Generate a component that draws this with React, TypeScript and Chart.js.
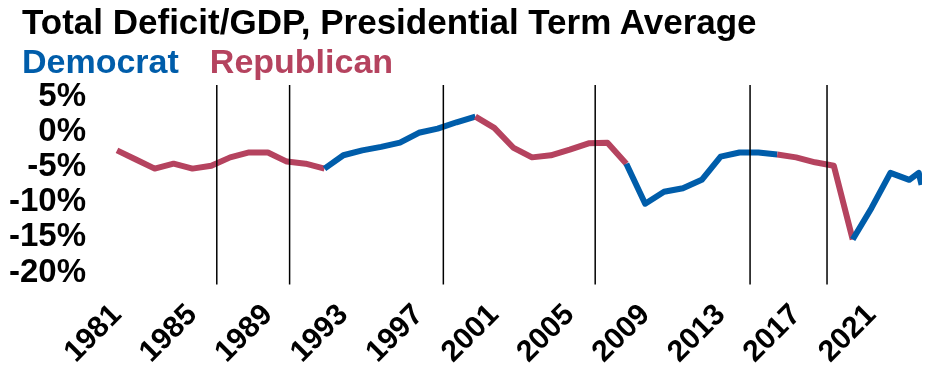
import React, { useEffect, useRef } from "react";
import { Chart, registerables } from "chart.js";

Chart.register(...registerables);

const years = [
  1981, 1982, 1983, 1984, 1985, 1986, 1987, 1988, 1989, 1990,
  1991, 1992, 1993, 1994, 1995, 1996, 1997, 1998, 1999, 2000,
  2001, 2002, 2003, 2004, 2005, 2006, 2007, 2008, 2009, 2010,
  2011, 2012, 2013, 2014, 2015, 2016, 2017, 2018, 2019, 2020,
  2021, 2022, 2023, 2023.5, 2023.65,
];

const deficitPct = [
  -2.6, -3.9, -5.2, -4.5, -5.2, -4.8, -3.6, -2.9, -2.9, -4.2,
  -4.5, -5.2, -3.3, -2.6, -2.1, -1.5, -0.1, 0.5, 1.4, 2.2,
  0.6, -2.2, -3.6, -3.3, -2.5, -1.6, -1.5, -4.5, -10.2, -8.5,
  -8.0, -6.8, -3.5, -2.9, -2.9, -3.2, -3.6, -4.3, -4.8, -15.3,
  -10.8, -5.8, -6.8, -5.8, -7.5,
];

const termStartYears = [1981, 1993, 2001, 2009, 2017, 2021];
const termParties = ["R", "D", "R", "D", "R", "D"];

const xTickYears = [1981, 1985, 1989, 1993, 1997, 2001, 2005, 2009, 2013, 2017, 2021];
const yTickValues = [5, 0, -5, -10, -15, -20];

const termMarkerYears = [1986.29, 1990.15, 1998.3, 2006.35, 2014.56, 2018.64];

const DEM_COLOR = "#005DAA";
const REP_COLOR = "#B5435F";
const FONT = "'Liberation Sans', Arial, sans-serif";

function partyOf(year: number): string {
  let p = termParties[0];
  for (let i = 0; i < termStartYears.length; i++) {
    if (year >= termStartYears[i]) p = termParties[i];
  }
  return p;
}

const markerPlugin = {
  id: "termMarkers",
  afterDatasetsDraw(chart: any) {
    const { ctx, chartArea, scales } = chart;
    const x = scales.x;
    ctx.save();
    ctx.strokeStyle = "#000";
    ctx.lineWidth = 1.5;
    for (const yr of termMarkerYears) {
      const px = x.getPixelForValue(yr);
      ctx.beginPath();
      ctx.moveTo(px, chartArea.top - 12);
      ctx.lineTo(px, chartArea.bottom + 12);
      ctx.stroke();
    }
    ctx.restore();
  },
};

export default function App() {
  const canvasRef = useRef<HTMLCanvasElement | null>(null);

  useEffect(() => {
    if (!canvasRef.current) return;
    const points = years.map((yr, i) => ({ x: yr, y: deficitPct[i] }));
    const chart = new Chart(canvasRef.current, {
      type: "line",
      data: {
        datasets: [
          {
            label: "Deficit/GDP",
            data: points,
            borderWidth: 6,
            pointRadius: 0,
            borderJoinStyle: "round",
            borderCapStyle: "butt",
            tension: 0,
            clip: false as any,
            borderColor: DEM_COLOR,
            segment: {
              borderColor: (ctx: any) =>
                partyOf(ctx.p1.parsed.x) === "D" ? DEM_COLOR : REP_COLOR,
            },
          },
        ],
      },
      options: {
        responsive: false,
        animation: false,
        layout: { padding: { top: 89, left: 0, right: 0, bottom: 0 } },
        plugins: {
          legend: { display: false },
          tooltip: { enabled: false },
          title: { display: false },
        },
        scales: {
          x: {
            type: "linear",
            min: years[0],
            max: years[years.length - 1],
            grid: { display: false, drawTicks: false },
            border: { display: false },
            afterBuildTicks: (axis: any) => {
              axis.ticks = xTickYears.map((v) => ({ value: v }));
            },
            afterFit: (axis: any) => {
              axis.height = 95.5;
            },
            ticks: {
              autoSkip: false,
              minRotation: 45,
              maxRotation: 45,
              padding: 25,
              color: "#000",
              font: { family: FONT, size: 30, weight: "bold" },
              callback: (v: any) => String(v),
            },
          },
          y: {
            min: -20,
            max: 5,
            grid: { display: false, drawTicks: false },
            border: { display: false },
            afterBuildTicks: (axis: any) => {
              axis.ticks = yTickValues.map((v) => ({ value: v }));
            },
            afterFit: (axis: any) => {
              axis.width = 109;
            },
            ticks: {
              autoSkip: false,
              padding: 31,
              color: "#000",
              font: { family: FONT, size: 33, weight: "bold" },
              callback: (v: any) => v + "%",
            },
          },
        },
      },
      plugins: [markerPlugin],
    });
    return () => chart.destroy();
  }, []);

  return (
    <div style={{ position: "relative", width: 914, height: 360, fontFamily: FONT }}>
      <canvas
        ref={canvasRef}
        width={914}
        height={360}
        style={{ position: "absolute", left: 0, top: 0 }}
      />
      <div
        style={{
          position: "absolute",
          left: 14,
          top: -4,
          fontSize: 35,
          lineHeight: "35px",
          fontWeight: "bold",
          color: "#000",
          whiteSpace: "nowrap",
        }}
      >
        Total Deficit/GDP, Presidential Term Average
      </div>
      <div
        style={{
          position: "absolute",
          left: 14,
          top: 36,
          fontSize: 34,
          lineHeight: "34px",
          fontWeight: "bold",
          whiteSpace: "nowrap",
        }}
      >
        <span style={{ color: DEM_COLOR }}>Democrat</span>
        <span style={{ color: REP_COLOR, marginLeft: 31 }}>Republican</span>
      </div>
    </div>
  );
}
